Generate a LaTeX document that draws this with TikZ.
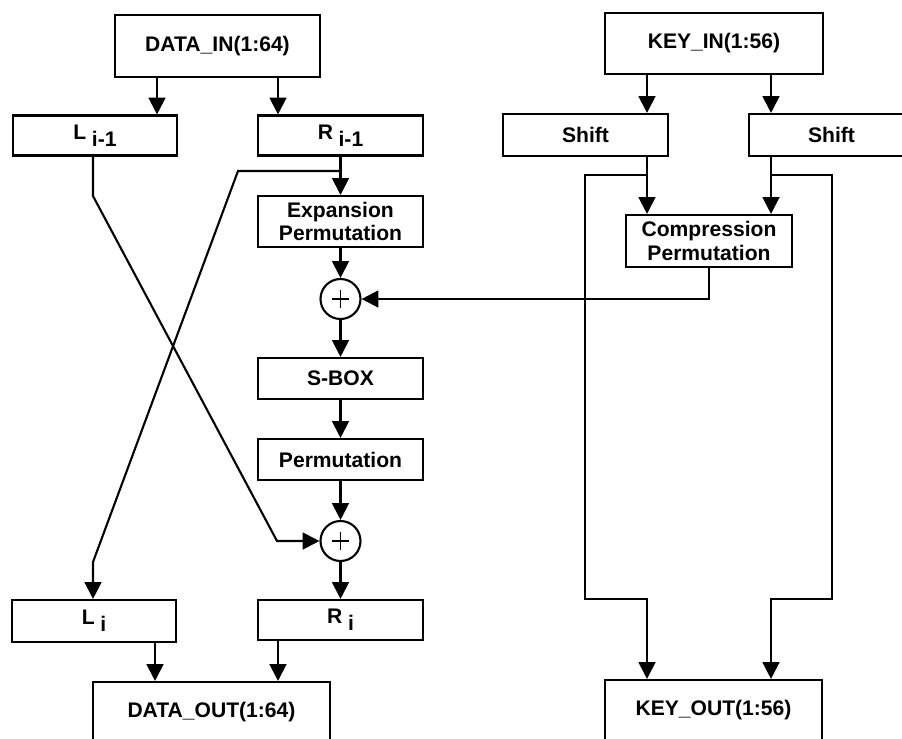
\documentclass[tikz,border=0pt]{standalone}
\usepackage{fontspec}
\setmainfont{Liberation Sans}
\usetikzlibrary{arrows.meta}

\newdimen\px \px=0.025cm
\newcommand{\lowi}[1]{\hspace{4pt}\raisebox{-5pt}{#1}}

\begin{document}
\begin{tikzpicture}[
    x=0.025cm, y=-0.025cm,
    blk/.style={draw, line width=1.5pt, inner sep=0pt, align=center,
        font=\fontsize{15}{16.5}\selectfont\bfseries},
    xorc/.style={circle, draw, line width=1.5pt, minimum size=40\px, inner sep=0pt,
        path picture={\draw[line width=1.2pt]
            ([xshift=-2.2mm]path picture bounding box.center) -- ([xshift=2.2mm]path picture bounding box.center)
            ([yshift=-2.2mm]path picture bounding box.center) -- ([yshift=2.2mm]path picture bounding box.center);}},
    sig/.style={-{Triangle[length=4.2mm,width=4.2mm]}, line width=1.5pt},
]
\useasboundingbox (0,0) rectangle (902,738);

% data half
\node[blk, minimum width=205\px, minimum height=62\px] (din) at (217.5,46) {DATA\_IN(1:64)};
\node[blk, minimum width=164\px, minimum height=40\px] (lprev) at (95,135.5) {L\lowi{i-1}};
\node[blk, minimum width=165\px, minimum height=40\px] (rprev) at (340.5,135.5) {R\lowi{i-1}};
\node[blk, minimum width=165\px, minimum height=51\px] (exp) at (340.5,221.5) {Expansion\\Permutation};
\node[xorc] (x1) at (340.5,299) {};
\node[blk, minimum width=165\px, minimum height=41\px] (sbox) at (340.5,378.5) {S-BOX};
\node[blk, minimum width=165\px, minimum height=41\px] (perm) at (340.5,459.5) {Permutation};
\node[xorc] (x2) at (340.5,541) {};
\node[blk, minimum width=164\px, minimum height=42\px] (li) at (94,621) {L\lowi{i}};
\node[blk, minimum width=165\px, minimum height=40\px] (ri) at (340.5,620) {R\lowi{i}};
\node[blk, minimum width=237\px, minimum height=60\px] (dout) at (211.5,712) {DATA\_OUT(1:64)};

\draw[sig] (din.south -| 157,0) -- (lprev.north -| 157,0);
\draw[sig] (din.south -| 278,0) -- (rprev.north -| 278,0);
\draw[sig] (rprev) -- (exp);
\draw[sig] (exp) -- (x1);
\draw[sig] (x1) -- (sbox);
\draw[sig] (sbox) -- (perm);
\draw[sig] (perm) -- (x2);
\draw[sig] (x2) -- (ri);
\draw[sig] (rprev.south |- 0,171) -- (238,171) -- (93,562) -- (li.north -| 93,0);
\draw[sig] (lprev.south -| 93,0) -- (93,196) -- (277,541) -- (x2);
\draw[sig] (li.south -| 155,0) -- (dout.north -| 155,0);
\draw[sig] (ri.south -| 278,0) -- (dout.north -| 278,0);

% key half
\node[blk, minimum width=218\px, minimum height=61\px] (kin) at (714,43.5) {KEY\_IN(1:56)};
\node[blk, minimum width=165\px, minimum height=42\px] (sh1) at (585.5,135) {Shift};
\node[blk, minimum width=165\px, minimum height=42\px] (sh2) at (831.5,135) {Shift};
\node[blk, minimum width=166\px, minimum height=52\px] (comp) at (709,241) {Compression\\Permutation};
\node[blk, minimum width=217\px, minimum height=60\px] (kout) at (713.5,710) {KEY\_OUT(1:56)};

\draw[sig] (kin.south -| 647,0) -- (sh1.north -| 647,0);
\draw[sig] (kin.south -| 771,0) -- (sh2.north -| 771,0);
\draw[sig] (sh1.south -| 647,0) -- (comp.north -| 647,0);
\draw[sig] (sh2.south -| 771,0) -- (comp.north -| 771,0);
\draw[sig] (647,175) -| (585,599) -| (kout.north -| 647,0);
\draw[sig] (771,175) -| (832,599) -| (kout.north -| 771,0);
\draw[sig] (comp.south) |- (x1);
\end{tikzpicture}
\end{document}
